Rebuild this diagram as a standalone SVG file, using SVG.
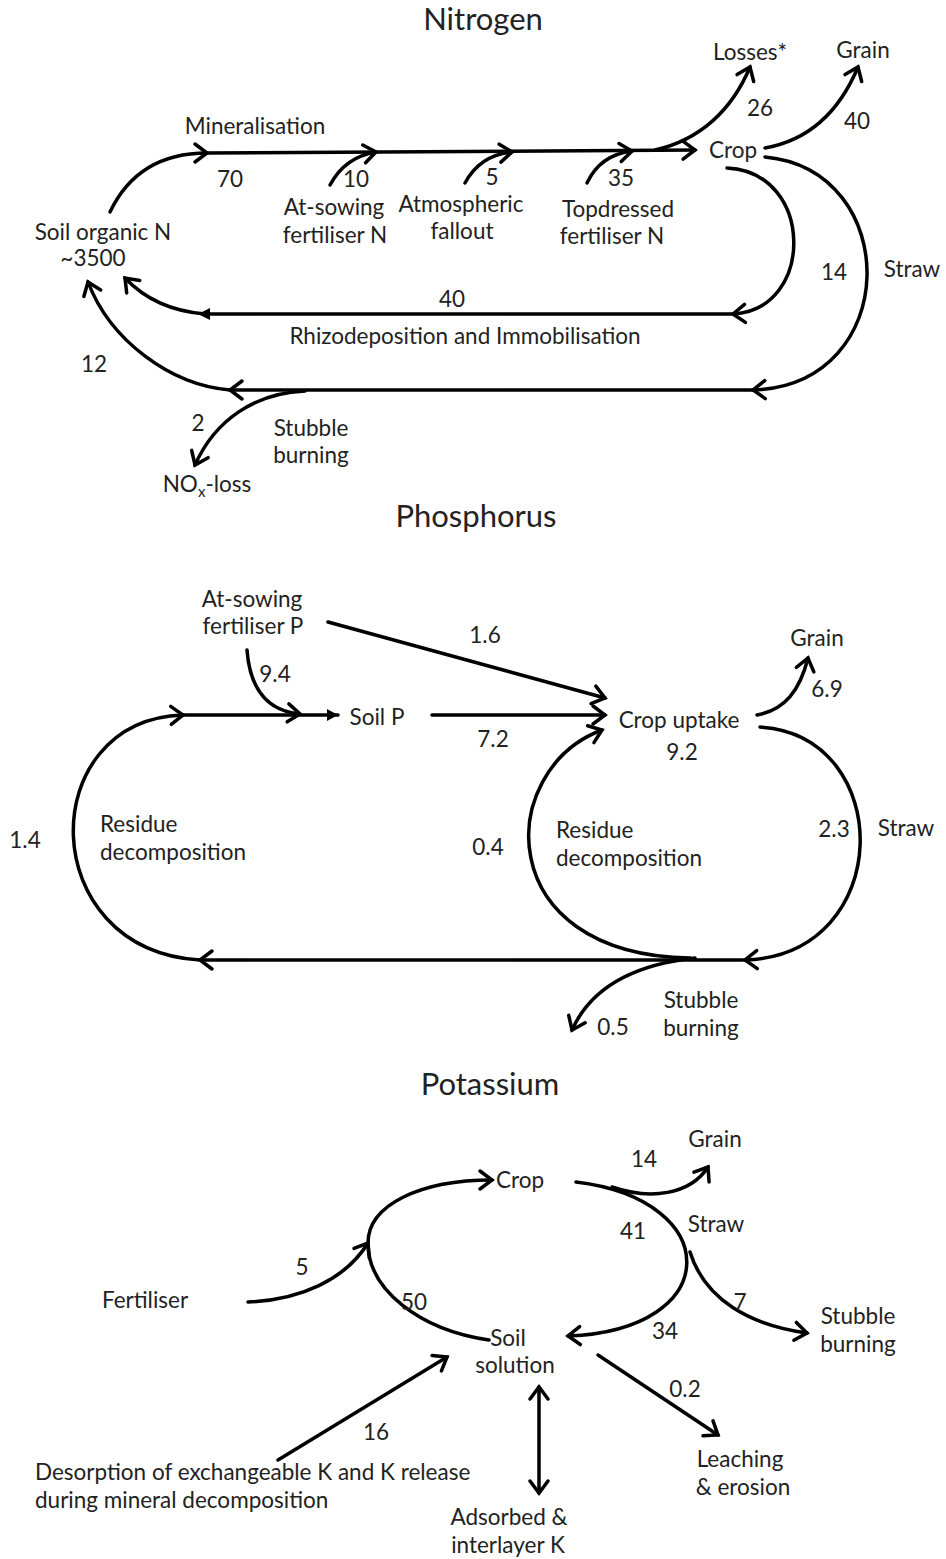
<svg xmlns="http://www.w3.org/2000/svg" width="946" height="1559" viewBox="0 0 946 1559">
<defs>
<style>
text{font-family:Lato,"Open Sans",sans-serif;font-size:22.5px;fill:#222;text-anchor:middle}
.title{font-size:31px}
.st{text-anchor:start}
.c{fill:none;stroke:#000;stroke-width:3.5;stroke-linecap:round}
.a{marker-end:url(#ar)}
</style>
<marker id="ar" viewBox="-16 -12 20 24" markerWidth="20" markerHeight="24" refX="0" refY="0" orient="auto-start-reverse" markerUnits="userSpaceOnUse">
<path d="M-12,-9 L0,0 L-12,9" fill="none" stroke="#000" stroke-width="3.5" stroke-linecap="round" stroke-linejoin="miter"/>
</marker>
<marker id="tri" viewBox="-12 -7 14 14" markerWidth="14" markerHeight="14" refX="0" refY="0" orient="auto" markerUnits="userSpaceOnUse">
<path d="M-11,-6 L0,0 L-11,6 Z" fill="#000"/>
</marker>
</defs>
<rect width="946" height="1559" fill="#fff"/>
<g id="connectors">
<!-- Nitrogen -->
<path class="c a" d="M110,212 C130,170 165,153 207,153"/>
<path class="c a" d="M207,153 L695,150"/>
<path class="c a" d="M330,185 Q345,157 376,152"/>
<path class="c a" d="M465,183 Q480,155 512,152"/>
<path class="c a" d="M587,183 Q600,155 632,151"/>
<path class="c a" d="M655,150 C700,140 732,110 750,67"/>
<path class="c a" d="M765,148 C810,140 840,110 858,67"/>
<path class="c a" d="M727,168 C815,172 815,310 733,314"/>
<path class="c" d="M733,314 L205,314"/>
<polygon points="198,314 210,308 210,320" fill="#000"/>
<path class="c a" d="M205,314 C168,311 142,296 125,278"/>
<path class="c a" d="M765,157 C903,170 903,385 753,390"/>
<path class="c a" d="M753,390 L230,390"/>
<path class="c a" d="M230,390 C170,385 110,340 88,282"/>
<path class="c a" d="M305,391 C255,393 215,420 195,465"/>
<!-- Phosphorus -->
<path class="c a" d="M328,622 L605,698"/>
<path class="c a" d="M247,650 C250,690 268,711 300,714"/>
<path class="c" d="M183,715 L338,715" style="marker-end:url(#tri)"/>
<path class="c a" d="M432,715 L605,715"/>
<path class="c a" d="M757,715 C785,710 800,690 808,658"/>
<path class="c a" d="M760,727 C896,735 896,955 745,960"/>
<path class="c a" d="M745,960 L200,960"/>
<path class="c a" d="M200,960 C34,950 34,720 183,715"/>
<path class="c a" d="M690,958 C490,955 495,770 602,730"/>
<path class="c a" d="M695,958 C630,965 590,990 572,1030"/>
<!-- Potassium -->
<path class="c a" d="M489,1340 C420,1330 368,1290 368,1243 C368,1205 420,1180 492,1180"/>
<path class="c a" d="M248,1302 C300,1300 345,1280 368,1243"/>
<path class="c a" d="M576,1182 C725,1200 725,1330 568,1336"/>
<path class="c a" d="M612,1187 C650,1200 690,1195 708,1167"/>
<path class="c a" d="M690,1252 C705,1300 750,1325 807,1333"/>
<path class="c a" d="M278,1460 L447,1357"/>
<path class="c a" d="M539,1387 L539,1493" style="marker-start:url(#ar)"/>
<path class="c a" d="M598,1355 L718,1435"/>
</g>
<g id="nitrogen">
<text class="title" x="483" y="30">Nitrogen</text>
<g id="n-soil"><text x="103" y="240">Soil organic N</text><text x="93" y="266">~3500</text></g>
<g id="n-min"><text x="255" y="134">Mineralisation</text><text x="230" y="187">70</text></g>
<g id="n-sow"><text x="356" y="187">10</text><text x="334" y="215">At-sowing</text><text x="335" y="243">fertiliser N</text></g>
<g id="n-atm"><text x="492" y="185">5</text><text x="461" y="212">Atmospheric</text><text x="462" y="239">fallout</text></g>
<g id="n-top"><text x="621" y="186">35</text><text x="618" y="217">Topdressed</text><text x="612" y="244">fertiliser N</text></g>
<g id="n-loss"><text x="750" y="60">Losses*</text><text x="760" y="116">26</text></g>
<g id="n-grain"><text x="863" y="58">Grain</text><text x="857" y="129">40</text></g>
<g id="n-crop"><text x="733" y="158">Crop</text></g>
<g id="n-straw"><text x="834" y="280">14</text><text x="912" y="277">Straw</text></g>
<g id="n-rhizo"><text x="452" y="307">40</text><text x="465" y="344">Rhizodeposition and Immobilisation</text></g>
<g id="n-12"><text x="94" y="372">12</text></g>
<g id="n-stubble"><text x="198" y="431">2</text><text x="311" y="436">Stubble</text><text x="311" y="463">burning</text></g>
<g id="n-nox"><text x="207" y="492">NO<tspan font-size="15" dy="5">x</tspan><tspan dy="-5">-loss</tspan></text></g>
</g>
<g id="phosphorus">
<text class="title" x="476" y="527">Phosphorus</text>
<g id="p-fert"><text x="252" y="607">At-sowing</text><text x="253" y="634">fertiliser P</text><text x="485" y="643">1.6</text><text x="275" y="682">9.4</text></g>
<g id="p-soil"><text x="377" y="725">Soil P</text><text x="493" y="747">7.2</text></g>
<g id="p-crop"><text x="679" y="728">Crop uptake</text><text x="682" y="760">9.2</text></g>
<g id="p-grain"><text x="817" y="646">Grain</text><text x="827" y="697">6.9</text></g>
<g id="p-res1"><text class="st" x="100" y="832">Residue</text><text class="st" x="100" y="860">decomposition</text><text x="25" y="848">1.4</text></g>
<g id="p-res2"><text class="st" x="556" y="838">Residue</text><text class="st" x="556" y="866">decomposition</text><text x="488" y="855">0.4</text></g>
<g id="p-straw"><text x="834" y="837">2.3</text><text x="906" y="836">Straw</text></g>
<g id="p-stubble"><text x="613" y="1035">0.5</text><text x="701" y="1008">Stubble</text><text x="701" y="1036">burning</text></g>
</g>
<g id="potassium">
<text class="title" x="490" y="1095">Potassium</text>
<g id="k-crop"><text x="520" y="1188">Crop</text></g>
<g id="k-grain"><text x="715" y="1147">Grain</text><text x="644" y="1167">14</text></g>
<g id="k-straw"><text x="716" y="1232">Straw</text><text x="633" y="1239">41</text><text x="665" y="1339">34</text></g>
<g id="k-stubble"><text x="858" y="1324">Stubble</text><text x="858" y="1352">burning</text><text x="740" y="1310">7</text></g>
<g id="k-fert"><text x="145" y="1308">Fertiliser</text><text x="302" y="1275">5</text><text x="414" y="1310">50</text></g>
<g id="k-soil"><text x="508" y="1346">Soil</text><text x="515" y="1373">solution</text></g>
<g id="k-desorp"><text x="376" y="1440">16</text><text class="st" x="35" y="1480">Desorption of exchangeable K and K release</text><text class="st" x="35" y="1508">during mineral decomposition</text></g>
<g id="k-ads"><text x="509" y="1525">Adsorbed &amp;</text><text x="508" y="1553">interlayer K</text></g>
<g id="k-leach"><text x="685" y="1397">0.2</text><text x="740" y="1467">Leaching</text><text x="743" y="1495">&amp; erosion</text></g>
</g>
</svg>
